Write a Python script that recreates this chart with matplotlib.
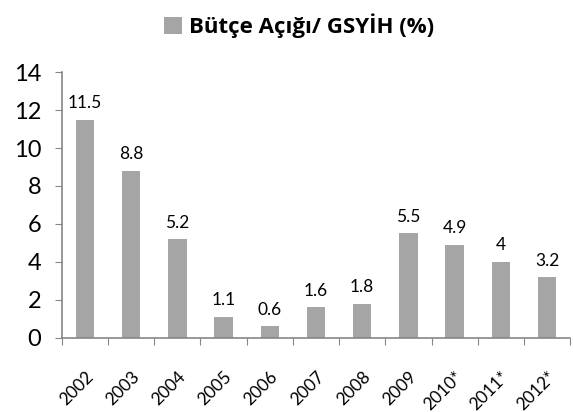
import matplotlib
matplotlib.use('Agg')
import matplotlib.pyplot as plt

years = ['2002', '2003', '2004', '2005', '2006', '2007', '2008', '2009', '2010*', '2011*', '2012*']
deficit = [11.5, 8.8, 5.2, 1.1, 0.6, 1.6, 1.8, 5.5, 4.9, 4, 3.2]
labels = ['11.5', '8.8', '5.2', '1.1', '0.6', '1.6', '1.8', '5.5', '4.9', '4', '3.2']

plt.rcParams['font.family'] = ['Lato', 'DejaVu Sans']

fig = plt.figure(figsize=(5.73, 4.12), dpi=100)
ax = fig.add_axes([0.108, 0.180, 0.887, 0.645])

x = range(len(years))
bars = ax.bar(x, deficit, width=0.4, color='#a5a5a5', label='Bütçe Açığı/ GSYİH (%)')
for i, v in enumerate(deficit):
    ax.text(i, v + 0.45, labels[i], ha='center', va='bottom', fontsize=12.5, color='black')

ax.set_xlim(-0.5, len(years) - 0.5)
ax.set_ylim(0, 14)
ax.set_yticks(range(0, 15, 2))
ax.set_xticks([i - 0.5 for i in range(len(years) + 1)], minor=False)
ax.set_xticklabels([])
ax.set_xticks(list(x), minor=True)
ax.set_xticklabels(years, minor=True, rotation=45, ha='right', rotation_mode='anchor', fontsize=12.5)
ax.tick_params(axis='x', which='minor', length=0, pad=22)
ax.tick_params(axis='x', which='major', length=5, color='#868686', direction='out')
ax.tick_params(axis='y', length=5, color='#868686', labelsize=17, pad=10)
for s in ['top', 'right']:
    ax.spines[s].set_visible(False)
for s in ['left', 'bottom']:
    ax.spines[s].set_color('#868686')
    ax.spines[s].set_linewidth(1.2)

leg = fig.legend(handles=[bars], loc='upper center', bbox_to_anchor=(0.522, 1.015), frameon=False,
                 prop={'family': 'Open Sans', 'weight': 'bold', 'size': 16},
                 handlelength=0.8, handleheight=0.8, handletextpad=0.3)

fig.savefig('out.png', dpi=100)
